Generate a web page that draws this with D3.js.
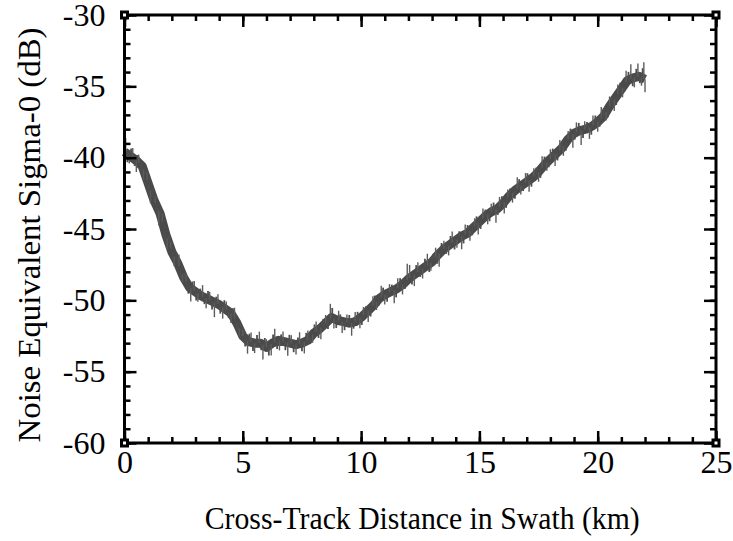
<!DOCTYPE html>
<html>
<head>
<meta charset="utf-8">
<script src="https://cdn.jsdelivr.net/npm/d3@7/dist/d3.min.js"></script>
<style>
  html, body { margin: 0; padding: 0; background: #fff; }
  svg { display: block; }
  text { font-family: "Liberation Serif", "Times New Roman", serif; fill: #000; }
</style>
</head>
<body>
<svg id="chart" width="733" height="541"></svg>
<script>
// Cross-track distance samples (km) and mean NESZ (dB) along the swath
const distanceKm = d3.range(0, 22.001, 0.25);
const neszMean = [
  -39.6, -39.9, -40.2, -40.6, -41.8, -43.0, -43.9, -45.4, -46.6, -47.4,
  -48.4, -49.1, -49.4, -49.7, -49.9, -50.1, -50.3, -50.6, -50.9, -51.6,
  -52.5, -52.9, -53.0, -53.0, -53.3, -53.0, -52.8, -52.9, -53.0, -53.1,
  -53.0, -52.8, -52.3, -52.0, -51.6, -51.2, -51.4, -51.5, -51.6, -51.5,
  -51.2, -50.8, -50.4, -49.9, -49.6, -49.4, -49.2, -48.9, -48.5, -48.2,
  -47.9, -47.6, -47.3, -46.8, -46.4, -46.1, -45.8, -45.5, -45.3, -44.9,
  -44.5, -44.1, -43.8, -43.6, -43.2, -42.7, -42.3, -42.0, -41.7, -41.4,
  -41.0, -40.5, -40.1, -39.7, -39.3, -38.7, -38.3, -38.1, -38.0, -37.8,
  -37.5, -37.1, -36.4, -35.8, -35.2, -34.6, -34.4, -34.3, -34.5
];
// Large noise excursions around the mean: [km, dB offset]
const noiseSpikes = [
  [0.05,0.9],[0.2,-0.5],[0.35,0.6],[0.5,-0.7],[0.6,0.5],[0.8,-0.6],[0.95,0.5],[1.1,-0.8],
  [1.3,0.4],[1.45,-0.9],[1.6,0.5],[1.8,-0.7],[1.95,0.4],[2.1,-0.6],[2.3,0.7],[2.45,-0.5],
  [2.6,0.5],[2.8,-0.8],[2.95,0.6],[3.1,-0.5],[3.3,0.7],[3.45,-0.6],[3.6,0.5],[3.8,-0.9],
  [3.95,0.6],[4.15,-0.7],[4.3,0.5],[4.5,-0.6],[4.65,0.7],[4.85,-0.5],[5.0,0.4],[5.2,-0.8],
  [5.35,0.6],[5.5,-0.6],[5.7,0.7],[5.85,-0.9],[6.0,0.5],[6.2,-0.7],[6.35,0.8],[6.55,-0.6],
  [6.7,0.6],[6.9,-0.8],[7.05,0.5],[7.25,-0.6],[7.4,0.7],[7.6,-0.7],[7.75,0.6],[7.95,-0.5],
  [8.1,0.6],[8.3,-0.7],[8.5,0.5],[8.7,0.9],[8.85,-0.6],[9.05,0.6],[9.2,-0.7],[9.4,0.5],
  [9.6,-0.8],[9.75,0.6],[9.95,-0.6],[10.1,0.5],[10.3,-0.7],[10.5,0.6],[10.65,-0.5],[10.85,0.7],
  [11.0,-0.6],[11.2,0.5],[11.4,-0.8],[11.55,0.6],[11.75,-0.6],[11.95,1.0],[12.05,0.8],[12.25,-0.7],
  [12.4,0.6],[12.6,-0.6],[12.8,0.7],[12.95,-0.5],[13.15,0.6],[13.3,-0.8],[13.5,0.5],[13.7,-0.6],
  [13.85,0.7],[14.05,-0.5],[14.25,-0.8],[14.4,0.6],[14.6,-0.6],[14.8,0.5],[14.95,-0.7],[15.15,0.6],
  [15.35,-0.6],[15.5,0.5],[15.7,-0.8],[15.85,0.6],[16.05,-0.7],[16.2,0.5],[16.4,-0.6],[16.6,0.7],
  [16.75,-0.5],[16.95,0.6],[17.1,-0.7],[17.3,0.5],[17.5,-0.6],[17.65,0.7],[17.85,-0.5],[18.0,0.6],
  [18.2,-0.7],[18.4,0.6],[18.55,-0.6],[18.75,0.5],[18.95,-0.8],[19.1,0.6],[19.3,-0.9],[19.45,0.5],
  [19.65,-0.7],[19.8,0.6],[20.0,-0.6],[20.15,0.7],[20.35,-0.5],[20.5,0.6],[20.7,-0.7],[20.85,0.6],
  [21.05,-0.6],[21.2,0.7],[21.4,0.9],[21.55,-0.6],[21.7,0.8],[21.85,-0.5],[21.95,1.0],[22.0,-0.8]
];
// Smaller noise excursions between the large ones: [km, dB offset]
const noiseHairs = [
  [0.12,-0.5],[0.28,0.5],[0.43,-0.4],[0.55,0.4],[0.7,-0.5],[0.88,0.4],[1.02,-0.5],[1.2,0.5],
  [1.38,-0.5],[1.53,0.4],[1.7,-0.5],[1.87,0.5],[2.03,-0.4],[2.2,0.5],[2.38,-0.5],[2.53,0.4],
  [2.7,-0.5],[2.88,0.5],[3.03,-0.5],[3.2,0.4],[3.38,-0.4],[3.53,0.5],[3.7,-0.5],[3.88,0.4],
  [4.05,-0.5],[4.22,0.5],[4.4,-0.4],[4.58,0.5],[4.75,-0.5],[4.92,0.5],[5.1,-0.5],[5.28,0.5],
  [5.43,-0.5],[5.6,0.5],[5.78,-0.4],[5.93,0.5],[6.1,-0.6],[6.28,0.5],[6.45,-0.5],[6.62,0.4],
  [6.8,-0.5],[6.97,0.5],[7.15,-0.5],[7.33,0.4],[7.5,-0.5],[7.68,0.5],[7.85,-0.4],[8.03,0.5],
  [8.2,-0.5],[8.4,0.4],[8.6,-0.5],[8.78,0.6],[8.95,-0.5],[9.12,0.4],[9.3,-0.5],[9.5,0.5],
  [9.68,-0.4],[9.85,0.5],[10.03,-0.5],[10.2,0.4],[10.4,-0.5],[10.58,0.5],[10.75,-0.4],[10.93,0.5],
  [11.1,-0.5],[11.3,0.4],[11.48,-0.5],[11.65,0.5],[11.85,-0.4],[12.15,-0.5],[12.33,0.5],[12.5,-0.4],
  [12.7,0.5],[12.88,-0.5],[13.05,0.4],[13.22,-0.5],[13.4,0.5],[13.6,-0.4],[13.78,0.5],[13.95,-0.5],
  [14.15,0.4],[14.33,-0.5],[14.5,0.5],[14.7,-0.4],[14.88,0.5],[15.05,-0.5],[15.25,0.4],[15.43,-0.5],
  [15.6,0.5],[15.78,-0.4],[15.95,0.5],[16.13,-0.5],[16.3,0.4],[16.5,-0.5],[16.68,0.5],[16.85,-0.4],
  [17.03,0.5],[17.2,-0.5],[17.4,0.4],[17.58,-0.5],[17.75,0.5],[17.93,-0.4],[18.1,0.5],[18.3,-0.5],
  [18.48,0.4],[18.65,-0.5],[18.85,0.5],[19.03,-0.4],[19.2,0.5],[19.38,-0.5],[19.55,0.4],[19.73,-0.5],
  [19.9,0.5],[20.08,-0.4],[20.25,0.5],[20.43,-0.5],[20.6,0.4],[20.78,-0.5],[20.95,0.5],[21.13,-0.4],
  [21.3,0.5],[21.48,-0.5],[21.63,0.5],[21.78,-0.4],[21.9,0.6]
];
const xTicks = [0, 5, 10, 15, 20, 25];
const yTicks = [-30, -35, -40, -45, -50, -55, -60];
const xLabel = "Cross-Track Distance in Swath (km)";
const yLabel = "Noise Equivalent Sigma-0 (dB)";

const svg = d3.select("#chart");
const plotL = 124.5, plotR = 716, plotT = 15, plotB = 443;

const x = d3.scaleLinear().domain([0, 25]).range([plotL, plotR]);
const y = d3.scaleLinear().domain([-60, -30]).range([plotB, plotT]);

const meanAt = d3.scaleLinear().domain(distanceKm).range(neszMean);
const meanLine = d3.line().x(d => x(d[0])).y(d => y(d[1]));
const meanPts = distanceKm.map((d, i) => [d, neszMean[i]]);

// Trace: dark core band with thin noise hairs
const g = svg.append("g");
g.append("path").datum(meanPts)
  .attr("fill", "none").attr("stroke", "#4a4a4a").attr("stroke-width", 9)
  .attr("stroke-linejoin", "round").attr("d", meanLine);

function drawHairs(data, color, width) {
  g.append("g").selectAll("line")
    .data(data)
    .join("line")
    .attr("x1", d => x(d[0])).attr("x2", d => x(d[0]))
    .attr("y1", d => y(meanAt(d[0])))
    .attr("y2", d => y(meanAt(d[0]) + d[1] * 1.15))
    .attr("stroke", color)
    .attr("stroke-width", width);
}
drawHairs(noiseHairs, "#4e4e4e", 1.8);
drawHairs(noiseSpikes, "#5c5c5c", 1.4);

// Axes: ticks point inward on all four sides
function styleAxis(sel) {
  sel.select(".domain").remove();
  sel.selectAll(".tick line").attr("stroke", "#000").attr("stroke-width", 2.5);
}
const minorX = d3.range(0, 25.01, 1);
const minorY = d3.range(-60, -29.99, 1);

const axes = [
  { make: () => d3.axisBottom(x), t: `translate(0,${plotB})`, major: xTicks, minor: minorX, labels: true, pad: 7 },
  { make: () => d3.axisTop(x), t: `translate(0,${plotT})`, major: xTicks, minor: minorX, labels: false, pad: 0 },
  { make: () => d3.axisLeft(y), t: `translate(${plotL},0)`, major: yTicks, minor: minorY, labels: true, pad: 19 },
  { make: () => d3.axisRight(y), t: `translate(${plotR},0)`, major: yTicks, minor: minorY, labels: false, pad: 0 }
];
axes.forEach(a => {
  svg.append("g").attr("transform", a.t)
    .call(a.make().tickValues(a.minor).tickSize(-6).tickFormat(() => ""))
    .call(styleAxis);
  const gm = svg.append("g").attr("transform", a.t)
    .call(a.make().tickValues(a.major).tickSize(-12).tickPadding(a.pad)
      .tickFormat(a.labels ? (d => String(d)) : () => ""))
    .call(styleAxis);
  gm.selectAll(".tick text").attr("font-size", 32)
    .attr("font-family", "Liberation Serif, Times New Roman, serif").attr("fill", "#000");
});

// Frame
svg.append("rect")
  .attr("x", plotL).attr("y", plotT)
  .attr("width", plotR - plotL).attr("height", plotB - plotT)
  .attr("fill", "none").attr("stroke", "#000").attr("stroke-width", 3);

// Corner markers
[[plotL, plotT], [plotR, plotT], [plotL, plotB], [plotR, plotB]].forEach(([cx, cy]) => {
  svg.append("rect").attr("x", cx - 4.5).attr("y", cy - 4.5).attr("width", 9).attr("height", 9)
    .attr("fill", "#000");
  svg.append("rect").attr("x", cx - 1.5).attr("y", cy - 1.5).attr("width", 3).attr("height", 3)
    .attr("fill", "#fff");
});

svg.append("text")
  .attr("x", (plotL + plotR) / 2 + 2).attr("y", 529)
  .attr("text-anchor", "middle").attr("font-size", 31)
  .attr("textLength", 435).attr("lengthAdjust", "spacingAndGlyphs")
  .text(xLabel);

svg.append("text")
  .attr("transform", `translate(40,235) rotate(-90)`)
  .attr("text-anchor", "middle").attr("font-size", 31)
  .attr("textLength", 415).attr("lengthAdjust", "spacingAndGlyphs")
  .text(yLabel);
</script>
</body>
</html>
